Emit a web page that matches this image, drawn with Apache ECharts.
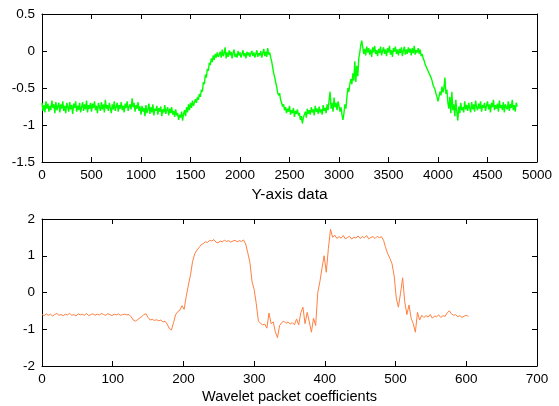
<!DOCTYPE html>
<html><head><meta charset="utf-8">
<script src="https://cdn.jsdelivr.net/npm/echarts@6/dist/echarts.min.js"></script>
<style>html,body{margin:0;padding:0;background:#fff}#c{width:559px;height:406px}</style>
</head><body><div id="c"></div>
<script>
// Top panel: Y-axis data, sampled every 10 samples (x = 0..4800)
const topStep = 10;
const topValues = [
-.70,-.81,-.73,-.83,-.68,-.78,-.71,-.82,-.74,-.80,
-.67,-.77,-.72,-.84,-.69,-.80,-.75,-.70,-.83,-.72,
-.78,-.68,-.81,-.74,-.84,-.70,-.76,-.82,-.69,-.79,
-.73,-.85,-.71,-.77,-.68,-.82,-.74,-.80,-.70,-.83,
-.76,-.69,-.81,-.72,-.79,-.67,-.83,-.73,-.78,-.70,
-.82,-.71,-.77,-.68,-.80,-.74,-.84,-.70,-.76,-.81,
-.69,-.79,-.72,-.83,-.66,-.78,-.73,-.81,-.70,-.77,
-.84,-.72,-.79,-.68,-.81,-.75,-.70,-.82,-.73,-.78,
-.69,-.80,-.74,-.83,-.71,-.77,-.68,-.81,-.75,-.72,
-.79,-.64,-.76,-.70,-.82,-.73,-.78,-.69,-.81,-.75,
-.86,-.74,-.82,-.77,-.88,-.73,-.84,-.79,-.71,-.85,
-.76,-.83,-.72,-.87,-.78,-.81,-.74,-.86,-.77,-.82,
-.75,-.88,-.79,-.83,-.73,-.85,-.80,-.76,-.87,-.78,
-.84,-.76,-.86,-.81,-.89,-.79,-.87,-.84,-.93,-.86,
-.90,-.82,-.94,-.85,-.80,-.88,-.76,-.83,-.72,-.80,
-.70,-.77,-.67,-.74,-.72,-.65,-.70,-.62,-.66,-.58,
-.62,-.52,-.55,-.42,-.45,-.32,-.36,-.24,-.27,-.16,
-.19,-.10,-.15,-.06,-.12,-.04,-.09,-.02,-.08,-.05,
-.01,-.09,.02,-.07,-.03,.05,-.10,-.02,-.08,.01,
-.06,-.01,-.10,-.03,.02,-.08,-.04,-.09,.00,-.06,
-.02,-.09,-.04,.01,-.07,-.03,-.10,-.01,-.06,-.02,
-.08,-.03,.00,-.07,-.02,-.09,-.04,.01,-.08,-.03,
-.06,.00,-.09,-.03,.03,-.07,-.01,-.08,.04,-.05,
-.02,-.09,-.14,-.22,-.30,-.35,-.42,-.48,-.56,-.60,
-.57,-.66,-.70,-.75,-.72,-.80,-.76,-.84,-.78,-.82,
-.74,-.86,-.80,-.84,-.77,-.89,-.81,-.85,-.79,-.87,
-.84,-.93,-.88,-.98,-.90,-.86,-.82,-.90,-.78,-.85,
-.80,-.86,-.76,-.83,-.79,-.87,-.74,-.82,-.78,-.85,
-.75,-.83,-.79,-.86,-.73,-.81,-.77,-.84,-.72,-.80,
-.66,-.55,-.78,-.70,-.82,-.63,-.76,-.70,-.80,-.68,
-.74,-.82,-.76,-.86,-.93,-.84,-.72,-.78,-.62,-.50,
-.55,-.44,-.38,-.45,-.30,-.40,-.14,-.42,-.20,-.34,
-.10,-.02,.08,.14,.05,-.04,.03,-.06,.06,-.02,
.04,-.05,.02,-.08,.05,-.02,.07,-.04,.01,-.07,
.03,-.03,.06,-.06,.00,.05,-.04,.02,-.07,.04,
-.02,.07,-.05,.01,-.08,.04,-.01,.06,-.04,.02,
-.06,.03,-.03,.05,-.07,.00,.06,-.05,.02,-.04,
.05,-.02,.03,-.06,.04,-.03,.07,-.05,.01,-.02,
.04,-.04,.02,-.07,-.04,-.10,-.13,-.18,-.16,-.24,
-.22,-.30,-.28,-.36,-.40,-.46,-.44,-.52,-.58,-.62,
-.68,-.62,-.55,-.60,-.48,-.56,-.50,-.36,-.58,-.52,
-.70,-.78,-.62,-.84,-.55,-.80,-.72,-.88,-.66,-.82,
-.94,-.75,-.84,-.70,-.80,-.76,-.83,-.68,-.79,-.73,
-.81,-.70,-.77,-.83,-.69,-.79,-.72,-.82,-.67,-.76,
-.80,-.71,-.78,-.68,-.82,-.73,-.77,-.70,-.81,-.74,
-.68,-.79,-.72,-.83,-.70,-.76,-.66,-.80,-.73,-.78,
-.71,-.82,-.67,-.77,-.73,-.80,-.69,-.83,-.72,-.76,
-.79,-.68,-.81,-.72,-.77,-.66,-.80,-.73,-.82,-.70,
-.75
];
// Bottom panel: wavelet packet coefficients, sampled every 3 (x = 0..603)
const botStep = 3;
const botValues = [
-.60,-.63,-.58,-.62,-.59,-.64,-.60,-.57,-.62,-.60,
-.63,-.59,-.61,-.57,-.62,-.60,-.64,-.58,-.61,-.59,
-.62,-.57,-.63,-.60,-.58,-.62,-.59,-.61,-.57,-.60,
-.62,-.58,-.60,-.63,-.59,-.61,-.58,-.62,-.60,-.59,
-.61,-.60,-.66,-.75,-.78,-.74,-.70,-.66,-.60,-.58,
-.68,-.75,-.73,-.76,-.74,-.77,-.75,-.80,-.78,-.86,
-.98,-1.02,-.82,-.60,-.52,-.48,-.36,-.46,-.10,.20,
.48,.85,1.05,1.15,1.22,1.30,1.33,1.38,1.36,1.42,
1.40,1.44,1.37,1.35,1.40,1.38,1.42,1.39,1.41,1.37,
1.40,1.42,1.38,1.41,1.39,1.43,1.32,1.08,.82,.30,
.08,-.30,-.78,-.84,-.88,-.86,-.97,-.56,-.85,-.80,
-1.07,-1.23,-.90,-.82,-.78,-.84,-.80,-.86,-.82,-.88,
-.72,-.88,-.55,-.40,-.85,-.54,-.80,-1.08,-.70,-.90,
.00,.30,.67,1.00,.55,1.20,1.72,1.50,1.56,1.47,
1.52,1.48,1.55,1.46,1.50,1.53,1.45,1.51,1.48,1.54,
1.47,1.52,1.49,1.55,1.46,1.50,1.52,1.47,1.53,1.49,
1.52,1.42,1.22,1.05,.93,.78,.45,-.15,-.40,-.02,
.40,-.25,-.60,-.34,-.70,-.85,-1.08,-.54,-.75,-.62,
-.68,-.63,-.67,-.60,-.70,-.64,-.66,-.61,-.68,-.63,
-.65,-.55,-.50,-.58,-.62,-.60,-.66,-.63,-.68,-.64,
-.62,-.65
];
const topXName = 'Y-axis data';
const botXName = 'Wavelet packet coefficients';

const topData = topValues.map((v, i) => [i * topStep, v]);
const botData = botValues.map((v, i) => [i * botStep, v]);

const FONT = 'Liberation Sans, Arial, sans-serif';
const fmt = v => String(v);
const lbl = {color: '#000', fontFamily: FONT, fontSize: 13.5, hideOverlap: false, formatter: fmt};
const line = {show: true, onZero: false, lineStyle: {color: '#000', width: 1}};
const tickIn = {show: true, inside: true, length: 5, lineStyle: {color: '#000'}};

function xAx(gi, min, max, itv, name, gap, nameSize) {
  return [
    {type: 'value', gridIndex: gi, min, max, interval: itv, position: 'bottom',
     axisLine: line, axisTick: tickIn, splitLine: {show: false},
     axisLabel: Object.assign({margin: 6, showMaxLabel: true, showMinLabel: true}, lbl),
     name, nameLocation: 'middle', nameGap: gap,
     nameTextStyle: {color: '#000', fontFamily: FONT, fontSize: nameSize}},
    {type: 'value', gridIndex: gi, min, max, interval: itv, position: 'top',
     axisLine: line, axisTick: tickIn, axisLabel: {show: false}, splitLine: {show: false}}
  ];
}
function yAx(gi, min, max, itv) {
  return [
    {type: 'value', gridIndex: gi, min, max, interval: itv, position: 'left',
     axisLine: line, axisTick: tickIn, splitLine: {show: false},
     axisLabel: Object.assign({margin: 7, showMaxLabel: true, showMinLabel: true}, lbl)},
    {type: 'value', gridIndex: gi, min, max, interval: itv, position: 'right',
     axisLine: line, axisTick: tickIn, axisLabel: {show: false}, splitLine: {show: false}}
  ];
}

const chart = echarts.init(document.getElementById('c'), null, {renderer: 'canvas'});
chart.setOption({
  animation: false,
  backgroundColor: '#fff',
  grid: [
    {left: 42, top: 14, width: 495, height: 148, containLabel: false},
    {left: 42, top: 219, width: 495, height: 147, containLabel: false}
  ],
  xAxis: [...xAx(0, 0, 5000, 500, topXName, 25, 15.5), ...xAx(1, 0, 700, 100, botXName, 23, 14.5)],
  yAxis: [...yAx(0, -1.5, 0.5, 0.5), ...yAx(1, -2, 2, 1)],
  series: [
    {type: 'line', xAxisIndex: 0, yAxisIndex: 0, data: topData, showSymbol: false,
     lineStyle: {color: '#00ff00', width: 1.4}, silent: true},
    {type: 'line', xAxisIndex: 2, yAxisIndex: 2, data: botData, showSymbol: false,
     lineStyle: {color: '#ff8040', width: 1}, silent: true}
  ]
});
</script></body></html>
